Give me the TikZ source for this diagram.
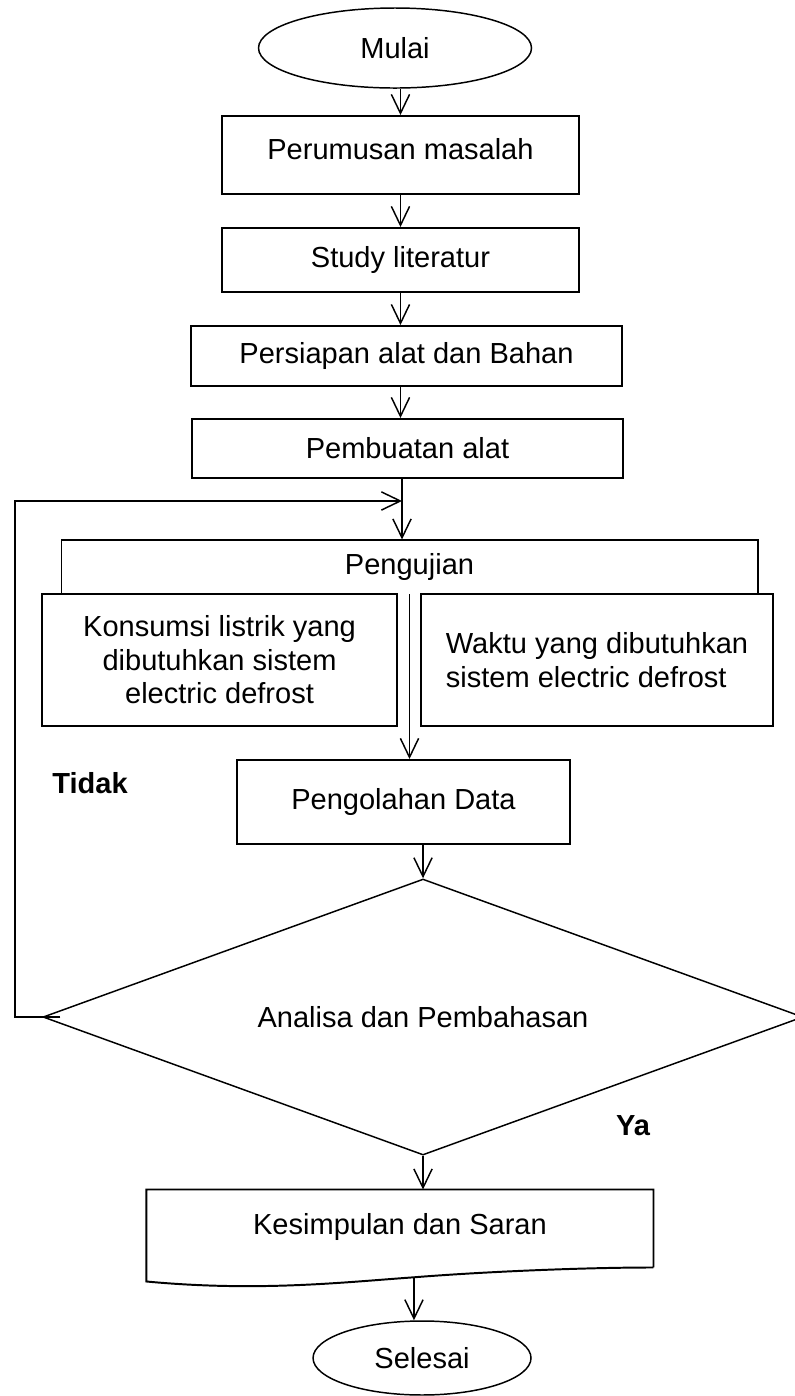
\documentclass[tikz,border=0pt]{standalone}
\usepackage{fontspec}
\setmainfont{Liberation Sans}
\usetikzlibrary{arrows.meta,calc,shapes.geometric}

\begin{document}
\begin{tikzpicture}[>={Straight Barb[length=2.7mm,width=2.6mm]},
    huruf/.style={font=\fontsize{11.8}{13.6}\selectfont},
    tebal/.style={font=\fontsize{11.8}{13.6}\selectfont\bfseries},
    kotak/.style={draw, line width=0.8pt, huruf},
    oval/.style={draw, ellipse, line width=0.6pt, huruf},
    garis/.style={line width=0.8pt},
    panah/.style={->, line width=0.6pt}]
    %% Background
    \useasboundingbox (0,0) rectangle (11.357,-19.943);

    %% Boxes
    \node[oval, minimum width=3.9cm, minimum height=1.143cm] (mulai) at (5.643,-0.686) {Mulai};
    \node[kotak, minimum width=5.1cm, minimum height=1.114cm, text depth=0.18cm] (perumusan) at (5.721,-2.214) {Perumusan masalah};
    \node[kotak, minimum width=5.1cm, minimum height=0.914cm] (study) at (5.721,-3.714) {Study literatur};
    \node[kotak, minimum width=6.157cm, minimum height=0.857cm] (persiapan) at (5.807,-5.086) {Persiapan alat dan Bahan};
    \node[kotak, minimum width=6.157cm, minimum height=0.843cm] (pembuatan) at (5.821,-6.407) {Pembuatan alat};
    \coordinate (balik) at (5.743,-7.157);
    \coordinate (kiri) at (0.214,0);

    %% Pengujian
    \node[huruf, minimum width=9.929cm, minimum height=0.771cm] (pengujian) at (5.85,-8.1) {Pengujian};
    \draw[garis] (pengujian.south west) |- (pengujian.north east) -- (pengujian.south east);
    \node[kotak, align=center, minimum width=5.071cm, minimum height=1.886cm] (konsumsi) at (3.136,-9.429)
        {Konsumsi listrik yang\\dibutuhkan sistem\\electric defrost};
    \node[kotak, align=left, minimum width=5.029cm, minimum height=1.886cm] (waktu) at (8.529,-9.429)
        {Waktu yang dibutuhkan\\sistem electric defrost};

    \node[kotak, minimum width=4.757cm, minimum height=1.2cm] (pengolahan) at (5.764,-11.457) {Pengolahan Data};
    \node[diamond, draw, line width=0.6pt, huruf, aspect=2.75, inner sep=0pt,
        minimum width=10.857cm, minimum height=3.943cm] (analisa) at (6.043,-14.529) {Analisa dan Pembahasan};

    %% Kesimpulan (document shape)
    \node[huruf, minimum width=7.229cm, minimum height=1.1cm, text depth=0.12cm] (kesimpulan) at (5.714,-17.55) {Kesimpulan dan Saran};
    \coordinate (gelombang) at ([shift={(0.2,-0.14)}]kesimpulan.south);
    \draw[garis] (kesimpulan.south east) |- (kesimpulan.north west) -- ([yshift=-0.2cm]kesimpulan.south west)
        .. controls +(1.6,-0.15) and +(-1.0,-0.07) .. (gelombang)
        .. controls +(1.0,0.08) and +(-1.0,0) .. (kesimpulan.south east);
    \node[oval, minimum width=3.114cm, minimum height=1.057cm] (selesai) at (6.029,-19.4) {Selesai};

    %% Arrows
    \draw[panah] (mulai.south -| perumusan.north) -- (perumusan.north);
    \draw[panah] (perumusan.south) -- (study.north);
    \draw[panah] (study.south) -- (study.south |- persiapan.north);
    \draw[panah] (persiapan.south -| study.south) -- (pembuatan.north -| study.south);
    \draw[panah] (pembuatan.south -| balik) -- (pengujian.north -| balik);
    \draw[panah] (pengujian.south) -- (pengujian.south |- pengolahan.north);
    \draw[panah] (pengolahan.south -| analisa.north) -- (analisa.north);
    \draw[panah] (analisa.south) -- (analisa.south |- kesimpulan.north);
    \draw[panah] (gelombang) -- (gelombang |- selesai.north);
    \draw[panah] ([xshift=0.26cm]analisa.west) -- (analisa.west -| kiri) |- (balik);

    %% Notes
    \node[tebal] (tidak) at (1.286,-11.186) {Tidak};
    \node[tebal] (ya) at (9.043,-16.086) {Ya};
\end{tikzpicture}
\end{document}
